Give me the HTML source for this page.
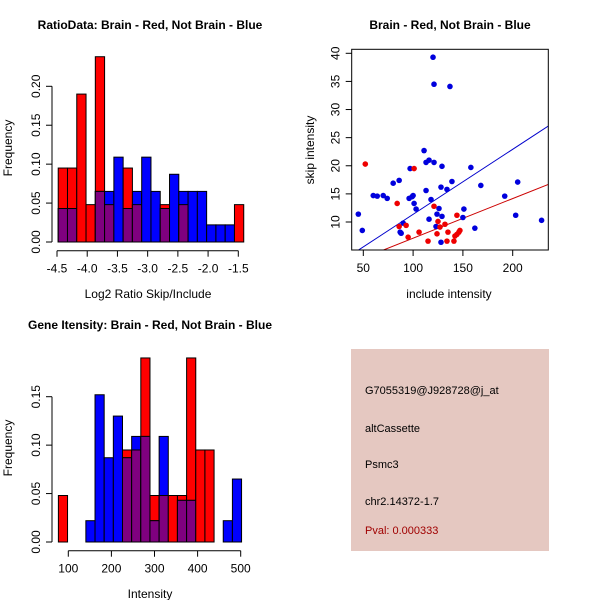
<!DOCTYPE html>
<html><head><meta charset="utf-8"><style>
html,body{margin:0;padding:0;background:#fff;}
svg{display:block;font-family:"Liberation Sans",Arial,sans-serif;}
</style></head><body>
<svg id="c" width="600" height="600" viewBox="0 0 600 600" xmlns="http://www.w3.org/2000/svg">
<rect width="600" height="600" fill="#fff"/>
</svg>
<script>
// Panel 1: ratio histogram
const ratioBreakStart = -4.48;
const ratioBinWidth = 0.1535;
const ratioRed = [0.095,0.095,0.19,0.048,0.238,0.048,0,0.095,0.048,0,0,0.048,0,0.048,0,0,0,0,0,0.048];
const ratioBlue = [0.043,0.043,0,0,0.065,0.065,0.109,0.043,0.065,0.109,0.065,0.043,0.087,0.065,0.065,0.065,0.022,0.022,0.022,0];
const ratioXTicks = [-4.5,-4.0,-3.5,-3.0,-2.5,-2.0,-1.5];
const ratioXLabels = ["-4.5","-4.0","-3.5","-3.0","-2.5","-2.0","-1.5"];
const ratioYTicks = [0,0.05,0.10,0.15,0.20];
const ratioYLabels = ["0.00","0.05","0.10","0.15","0.20"];
// Panel 2: scatter
const blueX = [45,49,60,64,70,74,80,86,87,88,90,96,97,99,100,101,103,111,113,113,116,116,118,120,121,121,123,124,126,128,129,129,128,134,137,139,150,151,158,162,168,192,203,205,229];
const blueY = [11.4,8.5,14.7,14.6,14.7,14.2,16.9,17.4,8.2,8.0,9.8,14.2,19.5,14.5,14.7,13.3,12.3,22.7,15.6,20.6,21.0,10.5,14.0,39.3,34.5,20.6,9.2,11.4,12.4,16.2,19.9,11.0,6.4,15.8,34.1,17.2,10.8,12.3,19.7,8.9,16.5,14.6,11.2,17.1,10.3];
const redX = [52,84,86,93,95,101,106,115,121,124,125,127,132,135,134,141,142,144,144,146,147];
const redY = [20.3,13.3,9.2,9.4,7.3,19.5,8.2,6.6,12.8,7.9,10.1,9.1,9.6,8.2,6.6,6.6,7.5,11.2,7.8,8.2,8.5];
const blueFit = [-0.21,0.1157];
const redFit = [0.07,0.0705];
const scatXTicks = [50,100,150,200];
const scatYTicks = [10,15,20,25,30,35,40];
// Panel 3: intensity histogram
const intBreakStart = 77;
const intBinWidth = 21.25;
const intRed = [0.048,0,0,0,0,0,0,0.095,0.095,0.19,0.048,0.048,0.048,0.048,0.19,0.095,0.095,0,0,0];
const intBlue = [0,0,0,0.022,0.152,0.087,0.13,0.087,0.109,0.109,0.022,0.109,0,0.043,0.043,0,0,0,0.022,0.065];
const intXTicks = [100,200,300,400,500];
const intYTicks = [0,0.05,0.10,0.15];
const intYLabels = ["0.00","0.05","0.10","0.15"];

const svg = document.getElementById('c');
const NS = "http://www.w3.org/2000/svg";
function mk(tag, attrs, parent){
  const e = document.createElementNS(NS, tag);
  for (const k in attrs) e.setAttribute(k, attrs[k]);
  (parent||svg).appendChild(e);
  return e;
}
function txt(s, x, y, opts, parent){
  const t = mk('text', Object.assign({x:x, y:y, 'font-size':12, fill:'#000'}, opts||{}), parent);
  t.textContent = s;
  return t;
}
function lin(d0,d1,r0,r1){ return v => r0 + (v-d0)*(r1-r0)/(d1-d0); }

function histogram(g, name, xs, ys, breakStart, bw, red, blue, xticks, xlabels, yticks, ylabels, yAxisX, xAxisY){
  for (let i=0;i<red.length;i++){
    const x0 = xs(breakStart+i*bw), x1 = xs(breakStart+(i+1)*bw);
    const r = red[i], b = blue[i];
    if (r>0){
      const e = mk('rect',{x:x0,y:ys(r),width:x1-x0,height:ys(0)-ys(r),fill:'#ff0000',stroke:'#000','stroke-width':1},g);
      
      
    }
    if (b>0){
      const e = mk('rect',{x:x0,y:ys(b),width:x1-x0,height:ys(0)-ys(b),fill:'#0000ff',stroke:'#000','stroke-width':1},g);
      
      
    }
    const m = Math.min(r,b);
    if (m>0){
      const e = mk('rect',{x:x0,y:ys(m),width:x1-x0,height:ys(0)-ys(m),fill:'#7f007f',stroke:'#000','stroke-width':1},g);
      
      
    }
  }
  // y axis
  const ya = mk('g',{},g);
  
  
  mk('line',{x1:yAxisX,x2:yAxisX,y1:ys(yticks[0]),y2:ys(yticks[yticks.length-1]),stroke:'#000'},ya);
  yticks.forEach((v,i)=>{
    mk('line',{x1:yAxisX-6,x2:yAxisX,y1:ys(v),y2:ys(v),stroke:'#000'},ya);
    const t = txt(ylabels[i], 0, 0, {'text-anchor':'middle', transform:`translate(${yAxisX-12},${ys(v)}) rotate(-90)`}, ya);
  });
  const xa = mk('g',{},g);
  
  
  mk('line',{x1:xs(xticks[0]),x2:xs(xticks[xticks.length-1]),y1:xAxisY,y2:xAxisY,stroke:'#000'},xa);
  xticks.forEach((v,i)=>{
    mk('line',{x1:xs(v),x2:xs(v),y1:xAxisY,y2:xAxisY+6,stroke:'#000'},xa);
    txt(xlabels[i], xs(v), xAxisY+22, {'text-anchor':'middle'}, xa);
  });
}

// Panel 1
const g1 = mk('g',{});


{
  const xs = lin(-4.5,-1.5,57,238.3);
  const ys = lin(0,0.20,242,86.3);
  histogram(g1,'ratio',xs,ys,ratioBreakStart,ratioBinWidth,ratioRed,ratioBlue,ratioXTicks,ratioXLabels,ratioYTicks,ratioYLabels,52,250.7);
  const t1 = txt('RatioData: Brain - Red, Not Brain - Blue',150,29,{'text-anchor':'middle','font-weight':'bold'},g1);
   
  const t2 = txt('Log2 Ratio Skip/Include',148,298,{'text-anchor':'middle'},g1);
   
  const t3 = txt('Frequency',0,0,{'text-anchor':'middle',transform:'translate(12,148) rotate(-90)'},g1);
   
}

// Panel 2
const g2 = mk('g',{});


{
  const L=351.7,R=548.3,T=49.3,B=250;
  const xs = lin(50,200,363.3,512.7);
  const ys = lin(10,40,222,53.3);
  const cp = mk('clipPath',{id:'sc'},g2);
  mk('rect',{x:L,y:T,width:R-L,height:B-T},cp);
  const fits = [[blueFit,'#0000cc','blue-fit-line'],[redFit,'#cc0000','red-fit-line']];
  const xmin = 38, xmax = 236;
  fits.forEach(f=>{
    const l = mk('line',{x1:xs(xmin),y1:ys(f[0][0]+f[0][1]*xmin),x2:xs(xmax),y2:ys(f[0][0]+f[0][1]*xmax),stroke:f[1],'stroke-width':1,'clip-path':'url(#sc)'},g2);
    
    
  });
  blueX.forEach((x,i)=>{
    const c = mk('circle',{cx:xs(x),cy:ys(blueY[i]),r:2.8,fill:'#0000dd'},g2);
    
    
  });
  redX.forEach((x,i)=>{
    const c = mk('circle',{cx:xs(x),cy:ys(redY[i]),r:2.8,fill:'#ee0000'},g2);
    
    
  });
  const box = mk('rect',{x:L,y:T,width:R-L,height:B-T,fill:'none',stroke:'#000'},g2);
   
  const ya = mk('g',{},g2);
   
  scatYTicks.forEach(v=>{
    mk('line',{x1:L-6,x2:L,y1:ys(v),y2:ys(v),stroke:'#000'},ya);
    txt(String(v),0,0,{'text-anchor':'middle',transform:`translate(${L-12},${ys(v)}) rotate(-90)`},ya);
  });
  const xa = mk('g',{},g2);
   
  scatXTicks.forEach(v=>{
    mk('line',{x1:xs(v),x2:xs(v),y1:B,y2:B+6,stroke:'#000'},xa);
    txt(String(v),xs(v),B+22,{'text-anchor':'middle'},xa);
  });
  const t1 = txt('Brain - Red, Not Brain - Blue',450,29,{'text-anchor':'middle','font-weight':'bold'},g2);
   
  const t2 = txt('include intensity',449,298,{'text-anchor':'middle'},g2);
   
  const t3 = txt('skip intensity',0,0,{'text-anchor':'middle',transform:'translate(314,150) rotate(-90)'},g2);
   
}

// Panel 3
const g3 = mk('g',{});


{
  const xs = lin(100,500,68.3,240.7);
  const ys = lin(0,0.15,542,396.7);
  histogram(g3,'intensity',xs,ys,intBreakStart,intBinWidth,intRed,intBlue,intXTicks,intXTicks.map(String),intYTicks,intYLabels,52,550.7);
  const t1 = txt('Gene Itensity: Brain - Red, Not Brain - Blue',150,329,{'text-anchor':'middle','font-weight':'bold'},g3);
   
  const t2 = txt('Intensity',150,598,{'text-anchor':'middle'},g3);
   
  const t3 = txt('Frequency',0,0,{'text-anchor':'middle',transform:'translate(12,448) rotate(-90)'},g3);
   
}
</script>
<svg width="0" height="0" style="position:absolute"></svg>
<div style="position:absolute;left:351px;top:349px;width:198px;height:202px;background:#e5c8c1;font-family:'Liberation Sans',Arial,sans-serif;font-size:11px;color:#000;">
  <div style="position:absolute;left:14px;top:36px;">G7055319@J928728@j_at</div>
  <div style="position:absolute;left:14px;top:74px;">altCassette</div>
  <div style="position:absolute;left:14px;top:110px;">Psmc3</div>
  <div style="position:absolute;left:14px;top:147px;">chr2.14372-1.7</div>
  <div style="position:absolute;left:14px;top:176px;color:#a00000;">Pval: 0.000333</div>
</div>
</body></html>
